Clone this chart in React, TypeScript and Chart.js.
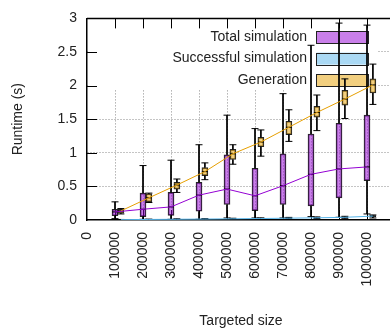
import React, { useEffect, useRef } from "react";
import { Chart, registerables } from "chart.js";
Chart.register(...registerables);

// ---- data ----
const sizes = [100000, 200000, 300000, 400000, 500000, 600000, 700000, 800000, 900000, 1000000];
const xTickValues = [0, 100000, 200000, 300000, 400000, 500000, 600000, 700000, 800000, 900000, 1000000];
const seriesNames = ["Total simulation", "Successful simulation", "Generation"];

const totalMin = [0.02, 0.01, 0.01, 0.01, 0.03, 0.03, 0.03, 0.05, 0.04, 0.09];
const totalQ1 = [0.063, 0.05, 0.07, 0.13, 0.23, 0.14, 0.23, 0.21, 0.33, 0.585];
const totalMed = [0.12, 0.16, 0.195, 0.37, 0.46, 0.36, 0.51, 0.68, 0.76, 0.79];
const totalQ3 = [0.16, 0.4, 0.41, 0.56, 0.97, 0.77, 0.985, 1.28, 1.44, 1.56];
const totalMax = [0.27, 0.81, 0.89, 1.12, 1.56, 1.36, 1.88, 2.6, 2.93, 2.9];

const successMin = [0.002, 0.004, 0.006, 0.008, 0.01, 0.013, 0.016, 0.02, 0.025, 0.03];
const successQ1 = [0.004, 0.007, 0.009, 0.012, 0.015, 0.019, 0.023, 0.028, 0.034, 0.05];
const successMed = [0.005, 0.008, 0.011, 0.014, 0.018, 0.022, 0.027, 0.033, 0.04, 0.058];
const successQ3 = [0.006, 0.01, 0.013, 0.017, 0.021, 0.026, 0.032, 0.038, 0.047, 0.066];
const successMax = [0.008, 0.013, 0.017, 0.021, 0.026, 0.032, 0.039, 0.046, 0.055, 0.075];

const genMin = [0.09, 0.26, 0.41, 0.6, 0.83, 0.95, 1.17, 1.33, 1.51, 1.72];
const genQ1 = [0.1, 0.27, 0.46, 0.66, 0.9, 1.09, 1.27, 1.53, 1.71, 1.89];
const genMed = [0.135, 0.33, 0.52, 0.72, 0.985, 1.16, 1.38, 1.6, 1.8, 2.01];
const genQ3 = [0.16, 0.39, 0.56, 0.78, 1.05, 1.23, 1.47, 1.69, 1.93, 2.1];
const genMax = [0.17, 0.4, 0.61, 0.85, 1.12, 1.34, 1.64, 1.86, 2.1, 2.32];

// ---- styles ----
const FONT = '"Liberation Sans", Arial, sans-serif';
const TEXT = "#222";
const lineColors = ["#9400d3", "#56b4e9", "#e69f00"];
const fillColors = ["rgba(148,0,211,0.5)", "rgba(86,180,233,0.5)", "rgba(230,159,0,0.5)"];
const OFFSET = 21000;

function boxSets(idx: number, offset: number, mn: number[], q1: number[], md: number[], q3: number[], mx: number[]) {
  const whisk: any[] = [];
  sizes.forEach((s, i) => {
    whisk.push({ x: s + offset, y: mx[i] }, { x: s + offset, y: q3[i] }, { x: s + offset, y: null });
    whisk.push({ x: s + offset, y: q1[i] }, { x: s + offset, y: mn[i] }, { x: s + offset, y: null });
  });
  const caps: any[] = [];
  sizes.forEach((s, i) => {
    caps.push({ x: s + offset, y: mn[i] }, { x: s + offset, y: mx[i] });
  });
  return [
    {
      type: "line",
      label: seriesNames[idx] + " whiskers",
      data: whisk,
      borderColor: "#000",
      borderWidth: 1,
      pointRadius: 0,
      spanGaps: false,
      order: 6,
    },
    {
      type: "bar",
      label: seriesNames[idx],
      data: sizes.map((s, i) => ({ x: s + offset, y: [q1[i], q3[i]] })),
      backgroundColor: fillColors[idx],
      borderColor: "rgba(0,0,0,0.85)",
      borderWidth: 1,
      borderSkipped: false,
      barThickness: 6,
      grouped: false,
      order: 5,
    },
    {
      type: "scatter",
      label: seriesNames[idx] + " caps",
      data: caps,
      pointStyle: "line",
      radius: 3.5,
      borderColor: "#000",
      borderWidth: 1,
      order: 4,
    },
    {
      type: "scatter",
      label: seriesNames[idx] + " median",
      data: sizes.map((s, i) => ({ x: s + offset, y: md[i] })),
      pointStyle: "line",
      radius: 3,
      borderColor: "#000",
      borderWidth: 1,
      order: 4,
    },
    {
      type: "line",
      label: seriesNames[idx] + " trend",
      data: sizes.map((s, i) => ({ x: s + offset, y: md[i] })),
      borderColor: lineColors[idx],
      borderWidth: 1,
      pointRadius: 0,
      order: 1,
    },
  ];
}

const frame = {
  id: "frameAndKey",
  beforeDatasetsDraw(chart: any) {
    const { ctx, chartArea, scales } = chart;
    const { left, top, right, bottom } = chartArea;
    ctx.save();
    // opaque key background
    ctx.fillStyle = "#fff";
    ctx.fillRect(left + 1, top + 1, 377 - left - 1, 90 - top - 1);
    // top border
    ctx.strokeStyle = "#000";
    ctx.lineWidth = 1.5;
    ctx.beginPath();
    ctx.moveTo(left, top);
    ctx.lineTo(right, top);
    ctx.stroke();
    // inward ticks
    ctx.lineWidth = 1;
    ctx.beginPath();
    [0.5, 1, 1.5, 2, 2.5].forEach((v) => {
      const y = Math.round(scales.y.getPixelForValue(v)) + 0.5;
      ctx.moveTo(left, y);
      ctx.lineTo(left + 10, y);
    });
    xTickValues.slice(1).forEach((v) => {
      const x = Math.round(scales.x.getPixelForValue(v)) + 0.5;
      ctx.moveTo(x, top);
      ctx.lineTo(x, top + 10);
      ctx.moveTo(x, bottom);
      ctx.lineTo(x, bottom - 10);
    });
    ctx.stroke();
    // key
    ctx.font = `14px ${FONT}`;
    ctx.textAlign = "right";
    ctx.textBaseline = "middle";
    seriesNames.forEach((name, i) => {
      const yc = 37 + i * 21.6;
      ctx.fillStyle = fillColors[i];
      ctx.fillRect(316.5, yc - 6, 52, 12);
      ctx.strokeStyle = "#222";
      ctx.lineWidth = 1;
      ctx.strokeRect(316.5, Math.round(yc - 6) + 0.5, 52, 12);
      ctx.fillStyle = TEXT;
      ctx.fillText(name, 307, yc);
    });
    ctx.restore();
  },
};

export default function App() {
  const ref = useRef<HTMLCanvasElement>(null);
  useEffect(() => {
    if (!ref.current) return;
    const datasets: any[] = [
      ...boxSets(0, 0, totalMin, totalQ1, totalMed, totalQ3, totalMax),
      ...boxSets(1, OFFSET, successMin, successQ1, successMed, successQ3, successMax),
      ...boxSets(2, OFFSET, genMin, genQ1, genMed, genQ3, genMax),
    ];
    const gridColor = (ctx: any) =>
      ctx.tick && (ctx.tick.value === 0 || ctx.tick.value === 3) ? "rgba(0,0,0,0)" : "#8a8a8a";
    const chart = new Chart(ref.current, {
      type: "bar",
      data: { datasets },
      plugins: [frame],
      options: {
        responsive: false,
        animation: false,
        devicePixelRatio: 1,
        layout: { padding: { top: 15, left: 0, right: 0, bottom: 0 } },
        plugins: { legend: { display: false }, tooltip: { enabled: false } },
        scales: {
          x: {
            type: "linear",
            offset: false,
            min: 0,
            max: 1100000,
            afterBuildTicks: (s: any) => {
              s.ticks = xTickValues.map((v) => ({ value: v }));
            },
            afterFit: (s: any) => {
              s.height = 110;
            },
            ticks: {
              autoSkip: false,
              minRotation: 90,
              maxRotation: 90,
              padding: 12,
              color: TEXT,
              font: { family: FONT, size: 14 },
              callback: (v: any) => String(v),
            },
            grid: { drawTicks: false, offset: false, color: gridColor, lineWidth: 1 },
            border: { display: true, color: "#000", width: 1.5, dash: [1, 2] },
            title: {
              display: true,
              text: "Targeted size",
              color: TEXT,
              font: { family: FONT, size: 14 },
              padding: { top: 0, bottom: 0 },
            },
          },
          y: {
            min: 0,
            max: 3,
            afterFit: (s: any) => {
              s.width = 87;
            },
            ticks: {
              stepSize: 0.5,
              padding: 10,
              color: TEXT,
              font: { family: FONT, size: 14 },
              callback: (v: any) => String(v),
            },
            grid: { drawTicks: false, color: gridColor, lineWidth: 1 },
            border: { display: true, color: "#000", width: 1.5, dash: [1, 2] },
            title: {
              display: true,
              text: "Runtime (s)",
              color: TEXT,
              font: { family: FONT, size: 14 },
              padding: { top: 10, bottom: 0 },
            },
          },
        },
      } as any,
    } as any);
    return () => chart.destroy();
  }, []);
  return (
    <div style={{ position: "fixed", left: 0, top: 0, width: 390, height: 330, overflow: "hidden", background: "#fff" }}>
      <canvas ref={ref} width={400} height={330} style={{ width: 400, height: 330, display: "block" }} />
    </div>
  );
}
